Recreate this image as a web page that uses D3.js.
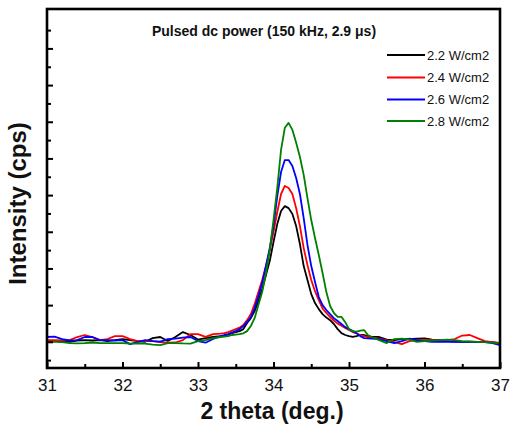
<!DOCTYPE html>
<html><head><meta charset="utf-8">
<script src="https://cdn.jsdelivr.net/npm/d3@7"></script>
<style>body{margin:0;background:#fff}</style>
</head><body><svg id="c" width="511" height="427"></svg>
<script>
const twoTheta = [31.0,31.1,31.2,31.3,31.4,31.5,31.6,31.7,31.8,31.9,32.0,32.1,32.2,32.3,32.4,32.5,32.6,32.7,32.8,32.9,33.0,33.1,33.2,
33.3,33.35,33.4,33.45,33.5,33.55,33.6,33.65,33.7,33.75,33.8,33.85,33.9,33.95,34.0,34.05,34.1,34.15,34.2,34.25,34.3,34.35,34.4,34.45,34.5,34.55,34.6,34.65,34.7,34.75,34.8,34.85,34.9,34.95,35.0,35.05,35.1,35.15,35.2,35.25,35.3,
35.4,35.5,35.6,35.7,35.8,35.9,36.0,36.1,36.2,36.3,36.4,36.5,36.6,36.7,36.8,36.9,37.0];

const p22 = [4,4,4,0,7,9,7,9,4,9,15,9,4,0,20,26,4,26,53,37,12,20,26,
31,34,39,47,53,58,69,102,129,167,222,288,364,440,544,642,713,740,729,697,631,533,413,337,260,211,178,151,132,118,97,69,47,37,31,27,31,37,37,31,27,
26,12,9,15,15,17,19,12,9,4,1,0,1,0,0,-2,-7];
const p24 = [9,9,7,9,26,37,26,9,15,31,31,15,4,4,4,-2,-5,-4,9,42,42,27,42,
45,47,53,61,69,77,91,118,151,206,271,337,413,500,598,708,806,850,839,806,729,631,511,418,337,276,227,181,157,135,116,99,88,75,64,53,45,37,31,26,23,
17,7,-2,-13,4,9,9,9,7,9,15,34,37,20,4,-2,-7];
const p26 = [26,28,15,7,9,26,26,9,9,7,9,-13,-2,9,4,1,15,17,23,26,4,-5,15,
31,37,42,50,58,69,86,108,135,184,249,320,413,511,631,795,926,991,991,959,893,806,675,528,413,326,244,200,173,151,129,113,97,80,69,58,47,31,20,19,17,
15,4,-7,4,17,9,4,0,0,0,1,0,1,0,-2,-7,-18];
const p28 = [0,0,-2,-7,-9,-7,-4,-7,-7,-7,-7,-10,-9,-10,-15,-18,-7,-7,-9,-10,4,9,20,
26,28,31,37,39,42,46,58,86,129,200,271,371,500,664,839,1047,1167,1194,1156,1085,1008,910,784,664,566,473,375,271,195,157,136,136,107,69,58,55,61,64,37,26,
9,-7,15,17,12,0,4,7,9,12,9,4,1,0,-2,-5,-10];

const seriesNames = ["2.2 W/cm2","2.4 W/cm2","2.6 W/cm2","2.8 W/cm2"];
const seriesColors = ["#000000","#ff0000","#0000ff","#008000"];
const xMajorTicks = [31,32,33,34,35,36,37];
const xMinorTicks = [31.5,32.5,33.5,34.5,35.5,36.5];
const yMajorTicks = [0,200,400,600,800,1000,1200,1400,1600];
const yMinorTicks = [-100,100,300,500,700,900,1100,1300,1500,1700];
const chartTitle = "Pulsed dc power (150 kHz, 2.9 \u03bcs)";
const xTitle = "2 theta (deg.)";
const yTitle = "Intensity (cps)";

const svg = d3.select("#c");
const L=47, R=500, T=9, B=368;
const x = d3.scaleLinear().domain([31,37]).range([L,R]);
const y = d3.scaleLinear().domain([-143,1815]).range([B,T]);
const font = "Liberation Sans, Arial, sans-serif";

const series = [p22,p24,p26,p28];
const line = d3.line().x((d,i)=>x(twoTheta[i])).y(d=>y(d));
series.forEach((s,k)=>{
  svg.append("path").datum(s).attr("d",line).attr("fill","none")
    .attr("stroke",seriesColors[k]).attr("stroke-width",1.8).attr("stroke-linejoin","round");
});

// axes
const gx = svg.append("g").attr("transform",`translate(0,${B})`)
  .call(d3.axisBottom(x).tickValues(xMajorTicks).tickSize(-6).tickPadding(11).tickFormat(d3.format("d")));
gx.select(".domain").remove();
gx.selectAll("line").attr("stroke-width",2);
gx.selectAll("text").attr("font-family",font).attr("font-size",17).attr("fill","#111");
const gx2 = svg.append("g").attr("transform",`translate(0,${B})`)
  .call(d3.axisBottom(x).tickValues(xMinorTicks).tickSize(-4).tickFormat(""));
gx2.select(".domain").remove(); gx2.selectAll("line").attr("stroke-width",2);

const gy = svg.append("g").attr("transform",`translate(${L},0)`)
  .call(d3.axisLeft(y).tickValues(yMajorTicks).tickSize(-6).tickFormat(""));
gy.select(".domain").remove(); gy.selectAll("line").attr("stroke-width",2);
const gy2 = svg.append("g").attr("transform",`translate(${L},0)`)
  .call(d3.axisLeft(y).tickValues(yMinorTicks).tickSize(-4).tickFormat(""));
gy2.select(".domain").remove(); gy2.selectAll("line").attr("stroke-width",2);

svg.append("rect").attr("x",L).attr("y",T).attr("width",R-L).attr("height",B-T)
  .attr("fill","none").attr("stroke","#000").attr("stroke-width",2.6);

// titles
svg.append("text").attr("x",264).attr("y",36).attr("text-anchor","middle")
  .attr("font-family",font).attr("font-weight","bold").attr("font-size",14).attr("fill","#111").text(chartTitle);
svg.append("text").attr("x",272).attr("y",419).attr("text-anchor","middle")
  .attr("font-family",font).attr("font-weight","bold").attr("font-size",23).attr("fill","#111").text(xTitle);
svg.append("text").attr("transform","translate(25.5,203.5) rotate(-90)").attr("text-anchor","middle")
  .attr("font-family",font).attr("font-weight","bold").attr("font-size",24).attr("fill","#111").text(yTitle);

// legend
const legY = [55,77.5,99.5,121];
seriesNames.forEach((n,k)=>{
  svg.append("line").attr("x1",387).attr("x2",425).attr("y1",legY[k]).attr("y2",legY[k])
    .attr("stroke",seriesColors[k]).attr("stroke-width",1.8);
  svg.append("text").attr("x",427).attr("y",legY[k]+4.5).attr("font-family",font)
    .attr("font-size",13).attr("fill","#111").text(n);
});
</script></body></html>
